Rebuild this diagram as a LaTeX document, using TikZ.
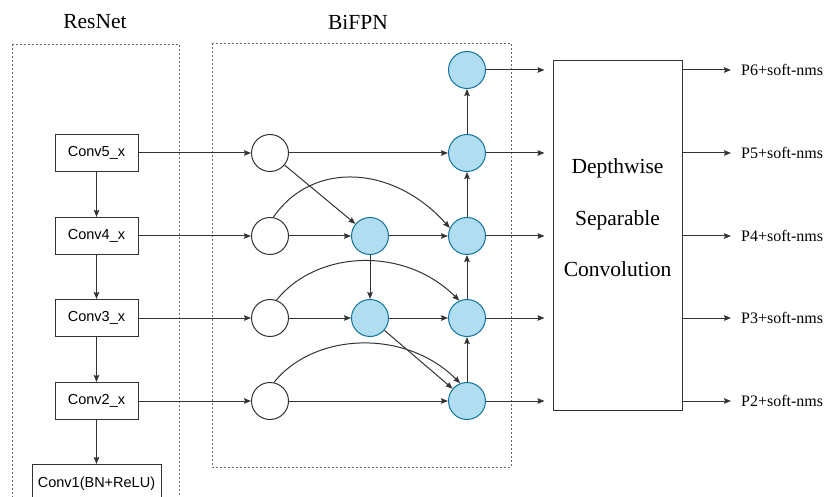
\documentclass[tikz,border=0pt]{standalone}
\usepackage{fontspec}
\setmainfont{Liberation Serif}
\newfontfamily\sansf{Liberation Sans}
\usetikzlibrary{arrows.meta}
\definecolor{bfill}{HTML}{B1DDF0}
\definecolor{bdraw}{HTML}{10739E}
\definecolor{ln}{HTML}{333333}
\begin{document}
\begin{tikzpicture}[x=1pt,y=-1pt,
  conv/.style={draw=ln, line width=1pt, minimum width=83pt, minimum height=37pt, inner sep=0, font=\sansf\fontsize{14.5}{17}\selectfont},
  wnode/.style={circle, draw=ln, line width=1pt, minimum size=37pt, inner sep=0, fill=white},
  bnode/.style={circle, draw=bdraw, fill=bfill, line width=1pt, minimum size=37pt, inner sep=0},
  arr/.style={draw=ln, line width=1pt, -{Stealth[length=7pt,width=5.5pt,inset=1pt]}},
  frame/.style={draw=black!60, line width=0.9pt, dash pattern=on 2pt off 2pt},
  title/.style={font=\fontsize{21.5}{24}\selectfont},
  plab/.style={font=\fontsize{16}{18}\selectfont, anchor=west, inner sep=0}]
\useasboundingbox (0,0) rectangle (825,497);
% frames and titles
\draw[frame] (12,44) rectangle (179,520);
\draw[frame] (212,43) rectangle (511,467);
\node[title] (tres) at (95,22) {ResNet};
\node[title] (tbi) at (358,22) {BiFPN};
% ResNet
\node[conv] (c5) at (96.5,153) {Conv5\_x};
\node[conv] (c4) at (96.5,236) {Conv4\_x};
\node[conv] (c3) at (96.5,318) {Conv3\_x};
\node[conv] (c2) at (96.5,401) {Conv2\_x};
\node[conv, minimum width=129pt, minimum height=38pt, anchor=north] (c1) at (96.5,464) {Conv1(BN+ReLU)};
% BiFPN nodes
\node[wnode] (W5) at (270,153) {};
\node[wnode] (W4) at (270,236) {};
\node[wnode] (W3) at (270,318) {};
\node[wnode] (W2) at (270,401) {};
\node[bnode] (M4) at (370,236) {};
\node[bnode] (M3) at (370,318) {};
\node[bnode] (R6) at (467,70) {};
\node[bnode] (R5) at (467,153) {};
\node[bnode] (R4) at (467,236) {};
\node[bnode] (R3) at (467,318) {};
\node[bnode] (R2) at (467,401) {};
% big box
\node[draw=ln, line width=1pt, minimum width=129pt, minimum height=349pt, inner sep=0] (dsc) at (617.5,235.5) {};
\node[align=center, font=\fontsize{21.5}{51.5}\selectfont] (dsct) at (617.5,218) {Depthwise\\Separable\\Convolution};
% outputs
\node[plab] (p6) at (741,70) {P6+soft-nms};
\node[plab] (p5) at (741,153) {P5+soft-nms};
\node[plab] (p4) at (741,236) {P4+soft-nms};
\node[plab] (p3) at (741,318) {P3+soft-nms};
\node[plab] (p2) at (741,401) {P2+soft-nms};
% ResNet edges
\draw[arr] (c5) -- (c4);
\draw[arr] (c4) -- (c3);
\draw[arr] (c3) -- (c2);
\draw[arr] (c2) -- (c1);
\draw[arr] (c5) -- (W5);
\draw[arr] (c4) -- (W4);
\draw[arr] (c3) -- (W3);
\draw[arr] (c2) -- (W2);
% BiFPN edges
\draw[arr] (W5) -- (R5);
\draw[arr] (W5) -- (M4);
\draw[arr] (W4) -- (M4);
\draw[arr] (M4) -- (R4);
\draw[arr] (M4) -- (M3);
\draw[arr] (W3) -- (M3);
\draw[arr] (M3) -- (R3);
\draw[arr] (M3) -- (R2);
\draw[arr] (W2) -- (R2);
\draw[arr] (R2) -- (R3);
\draw[arr] (R3) -- (R4);
\draw[arr] (R4) -- (R5);
\draw[arr] (R5) -- (R6);
\draw[arr] (W4.80) .. controls +(40,-58) and +(-55,-62) .. (R4.155);
\draw[arr] (W3.70) .. controls +(40,-50) and +(-55,-55) .. (R3.114);
\draw[arr] (W2.78) .. controls +(40,-50) and +(-55,-55) .. (R2.111);
% to box
\foreach \r in {R6,R5,R4,R3,R2}{\draw[arr, shorten >=8pt] (\r) -- (\r -| dsc.west);}
% from box
\foreach \p in {p6,p5,p4,p3,p2}{\draw[arr, shorten >=10pt] (dsc.east |- \p.west) -- (\p.west);}
\end{tikzpicture}
\end{document}
